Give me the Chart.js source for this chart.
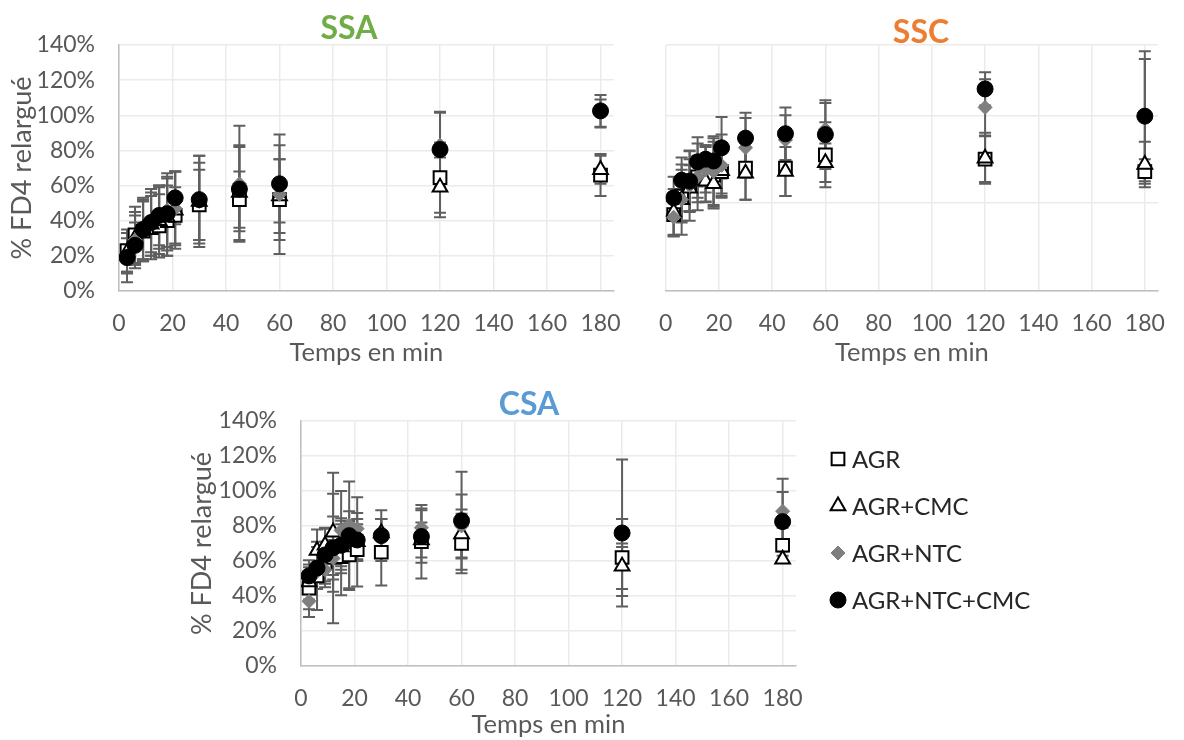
<!DOCTYPE html>
<html lang="fr">
<head>
<meta charset="utf-8">
<title>% FD4 relargué</title>
<script src="https://cdn.jsdelivr.net/npm/chart.js@4.4.1/dist/chart.umd.min.js"></script>
<style>
    html, body { margin: 0; padding: 0; background: #ffffff; overflow: hidden; }
    canvas { position: absolute; }
    #ssa { left: 0; top: 0; }
    #ssc { left: 640px; top: 0; }
    #csa { left: 180px; top: 375px; }
</style>
</head>
<body>
<canvas id="ssa" width="640" height="370"></canvas>
<canvas id="ssc" width="544" height="370"></canvas>
<canvas id="csa" width="880" height="365"></canvas>
<script>
"use strict";
/* DONNÉES (temps en min, % FD4 relargué, écarts-types) */
const temps = [3, 6, 9, 12, 15, 18, 21, 30, 45, 60, 120, 180];
const series = ["AGR", "AGR+CMC", "AGR+NTC", "AGR+NTC+CMC"];
const ticksX = [0, 20, 40, 60, 80, 100, 120, 140, 160, 180];

const ssaAGR = [23, 32, 34, 36, 37, 40, 43, 49, 52, 52, 64.5, 66];
const ssaAGRErr = [12, 16, 17, 18, 18, 20, 16, 20, 16, 23, 20, 12];
const ssaCMC = [22, 30, 35, 38, 40, 42, 46, 51, 56, 54, 59, 69];
const ssaCMCErr = [11, 15, 17, 18, 19, 22, 22, 26, 27, 21, 17, 8];
const ssaNTC = [20, 29, 35, 40, 42, 46, 47, 51, 61, 55, 83, 101];
const ssaNTCErr = [10, 14, 17, 18, 18, 21, 21, 22, 33, 34, 19, 8];
const ssaNTCCMC = [19, 26, 35, 39, 43, 44, 53, 52, 58, 61, 80.5, 102.5];
const ssaNTCCMCErr = [14, 13, 18, 19, 17, 21, 15, 25, 24, 22, 21, 9];

const sscAGR = [43.5, 54, 60, 65, 67, 66, 68, 70, 70, 77.5, 75, 68];
const sscAGRErr = [12, 15, 15, 19, 16, 19, 15, 18, 16, 18.5, 13, 7];
const sscCMC = [45, 52, 58.5, 63.5, 62.5, 61, 68.5, 67, 68, 73, 75.5, 72];
const sscCMCErr = [13, 20, 13, 13, 12, 13, 13, 15, 14, 11, 14.5, 13];
const sscNTC = [42, 52, 60, 65, 69, 68, 71.5, 81.5, 86, 92, 104.5, 99];
const sscNTCErr = [11, 12, 20, 12, 13, 19, 17.5, 17, 14, 15, 16, 33];
const sscNTCCMC = [53, 63, 62.5, 73.5, 75, 74, 81.5, 87, 89.5, 89, 115, 99.5];
const sscNTCCMCErr = [12, 13, 17, 14, 8, 14, 17.5, 14.5, 15, 19.5, 9.5, 37];

const csaAGR = [44.5, 51.5, 59, 62, 62.5, 63.5, 66.5, 65, 71, 70, 62, 69];
const csaAGRErr = [12, 19.5, 12, 10, 22, 19, 21, 19, 21, 17, 22, 10];
const csaCMC = [48, 66, 69, 76.5, 68, 73, 71, 76, 72, 75.5, 57, 61];
const csaCMCErr = [10, 12, 10, 34, 15, 10, 10, 8, 10, 14, 13, 2];
const csaNTC = [37, 54, 55, 61.5, 77.5, 80.5, 78.5, 74, 79, 80, 76, 88.5];
const csaNTCErr = [9, 10, 10, 37, 22.5, 8, 18, 10, 11, 18, 8, 18.5];
const csaNTCCMC = [51.5, 56, 63.5, 67.5, 69, 74.5, 72, 74.5, 74, 83, 76, 82.5];
const csaNTCCMCErr = [9, 12, 15, 18, 12, 31, 12, 14.5, 15, 28, 42, 17];

/* STYLE DES MARQUEURS PAR SÉRIE */
const marqueurs = [
    { style: "rect", rayon: 9, fond: "#ffffff", bord: "#000000", epaisseur: 2 },
    { style: "triangle", rayon: 8.5, fond: "#ffffff", bord: "#000000", epaisseur: 2 },
    { style: "rectRot", rayon: 7, fond: "#7f7f7f", bord: "#7f7f7f", epaisseur: 1 },
    { style: "circle", rayon: 8, fond: "#000000", bord: "#000000", epaisseur: 1 }
];

Chart.defaults.font.family = "Lato, 'Open Sans', sans-serif";

/* BARRES D'ERREUR */
const barresErreur = {
    id: "barresErreur",
    beforeDatasetsDraw(chart) {
        const { ctx, scales } = chart;
        ctx.save();
        ctx.strokeStyle = "#5f5f5f";
        ctx.lineWidth = 2;
        chart.data.datasets.forEach(ds => {
            ds.data.forEach((p, i) => {
                const e = ds.erreurs[i];
                const x = scales.x.getPixelForValue(p.x);
                const haut = scales.y.getPixelForValue(p.y + e);
                const bas = scales.y.getPixelForValue(p.y - e);
                ctx.beginPath();
                ctx.moveTo(x, haut);
                ctx.lineTo(x, bas);
                ctx.moveTo(x - 6, haut);
                ctx.lineTo(x + 6, haut);
                ctx.moveTo(x - 6, bas);
                ctx.lineTo(x + 6, bas);
                ctx.stroke();
            });
        });
        ctx.restore();
    }
};

/* TITRE DU PANNEAU */
const titrePanneau = {
    id: "titrePanneau",
    afterDraw(chart, args, opts) {
        const ctx = chart.ctx;
        ctx.save();
        ctx.font = "bold 32px Lato, 'Open Sans', sans-serif";
        ctx.fillStyle = opts.couleur;
        ctx.textAlign = "center";
        ctx.textBaseline = "middle";
        ctx.fillText(opts.texte, opts.x, opts.y);
        ctx.restore();
    }
};

/* LÉGENDE */
const legendeSeries = {
    id: "legendeSeries",
    afterDraw(chart, args, opts) {
        const ctx = chart.ctx;
        ctx.save();
        ctx.font = "24px Lato, 'Open Sans', sans-serif";
        ctx.textBaseline = "middle";
        chart.data.datasets.forEach((ds, k) => {
            const y = opts.y + k * opts.pas;
            ctx.fillStyle = ds.pointBackgroundColor;
            ctx.strokeStyle = ds.pointBorderColor;
            ctx.lineWidth = ds.pointBorderWidth;
            Chart.helpers.drawPoint(ctx, {
                pointStyle: ds.pointStyle,
                radius: ds.pointRadius,
                rotation: 0,
                borderWidth: ds.pointBorderWidth
            }, opts.x, y);
            ctx.fillStyle = "#262626";
            ctx.fillText(ds.label, opts.x + 14, y + 1);
        });
        ctx.restore();
    }
};

function creerPanneau(idCanvas, p) {
    const datasets = p.valeurs.map((vals, k) => ({
        label: series[k],
        data: temps.map((t, i) => ({ x: t, y: vals[i] })),
        erreurs: p.erreurs[k],
        order: 4 - k,
        pointStyle: marqueurs[k].style,
        pointRadius: marqueurs[k].rayon,
        pointHoverRadius: marqueurs[k].rayon,
        pointBackgroundColor: marqueurs[k].fond,
        pointBorderColor: marqueurs[k].bord,
        pointBorderWidth: marqueurs[k].epaisseur
    }));
    new Chart(document.getElementById(idCanvas), {
        type: "scatter",
        data: { datasets },
        options: {
            responsive: false,
            animation: false,
            events: [],
            layout: { padding: p.marges },
            plugins: {
                legend: { display: false },
                tooltip: { enabled: false },
                titrePanneau: p.titre,
                legendeSeries: p.legende
            },
            scales: {
                x: {
                    type: "linear",
                    min: 0,
                    max: 185,
                    bounds: "data",
                    afterBuildTicks: s => { s.ticks = ticksX.map(v => ({ value: v })); },
                    ticks: { padding: 19, color: "#595959", font: { size: 23 } },
                    grid: { color: "#ebebeb", lineWidth: 1.5, drawTicks: false },
                    border: { color: "#bfbfbf", width: 1.5 },
                    title: { display: true, text: "Temps en min", color: "#595959", font: { size: 25.5 }, padding: 0 },
                    afterFit: s => { s.height = p.hauteurX; }
                },
                y: {
                    type: "linear",
                    min: 0,
                    max: 140,
                    bounds: "data",
                    ticks: {
                        display: p.etiquettesY,
                        stepSize: p.pasY,
                        includeBounds: false,
                        padding: 24,
                        color: "#595959",
                        font: { size: 23 },
                        callback: v => v + "%"
                    },
                    grid: { color: "#ebebeb", lineWidth: 1.5, drawTicks: false },
                    border: { display: p.etiquettesY, color: "#bfbfbf", width: 1.5 },
                    title: { display: p.etiquettesY, text: "% FD4 relargué", color: "#595959", font: { size: 27 }, padding: 0 },
                    afterFit: s => { s.width = p.largeurY; }
                }
            }
        },
        plugins: [barresErreur, titrePanneau, legendeSeries]
    });
}

/* INITIALISER LES TROIS PANNEAUX */
document.addEventListener("DOMContentLoaded", () => {
    creerPanneau("ssa", {
        valeurs: [ssaAGR, ssaCMC, ssaNTC, ssaNTCCMC],
        erreurs: [ssaAGRErr, ssaCMCErr, ssaNTCErr, ssaNTCCMCErr],
        titre: { texte: "SSA", couleur: "#70ad47", x: 349, y: 29 },
        legende: false,
        etiquettesY: true,
        pasY: 20,
        largeurY: 113,
        hauteurX: 77,
        marges: { top: 45, left: 6, right: 17, bottom: 2 }
    });
    creerPanneau("ssc", {
        valeurs: [sscAGR, sscCMC, sscNTC, sscNTCCMC],
        erreurs: [sscAGRErr, sscCMCErr, sscNTCErr, sscNTCCMCErr],
        titre: { texte: "SSC", couleur: "#ed7d31", x: 281, y: 33 },
        legende: false,
        etiquettesY: false,
        pasY: 50,
        largeurY: 21.5,
        hauteurX: 77,
        marges: { top: 45, left: 0, right: 9, bottom: 2 }
    });
    creerPanneau("csa", {
        valeurs: [csaAGR, csaCMC, csaNTC, csaNTCCMC],
        erreurs: [csaAGRErr, csaCMCErr, csaNTCErr, csaNTCCMCErr],
        titre: { texte: "CSA", couleur: "#5b9bd5", x: 349, y: 30 },
        legende: { x: 658, y: 84, pas: 47 },
        etiquettesY: true,
        pasY: 20,
        largeurY: 115,
        hauteurX: 74,
        marges: { top: 46, left: 6, right: 264, bottom: 0 }
    });
});
</script>
</body>
</html>
